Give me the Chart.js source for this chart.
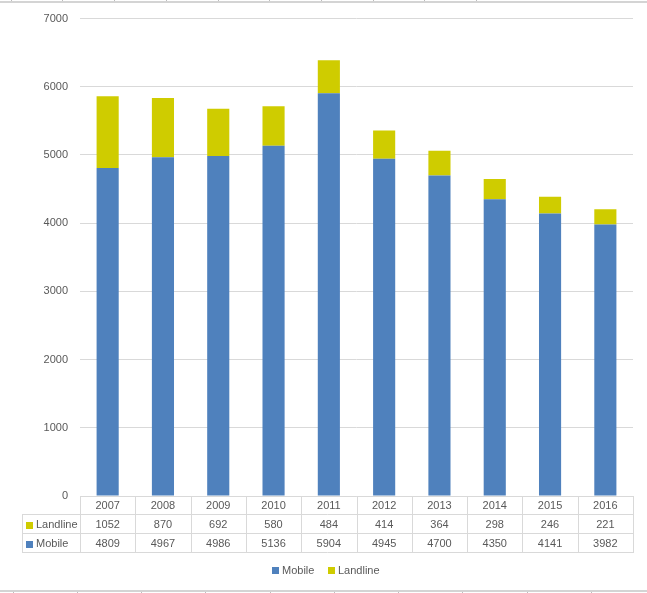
<!DOCTYPE html>
<html>
<head>
<meta charset="utf-8">
<script src="https://cdn.jsdelivr.net/npm/chart.js@4"></script>
<style>
  html, body { margin: 0; padding: 0; background: #fff; }
  #wrap { width: 647px; height: 593px; position: relative; }
</style>
</head>
<body>
<div id="wrap"><canvas id="chart" width="647" height="593"></canvas></div>
<script>
const years = ["2007", "2008", "2009", "2010", "2011", "2012", "2013", "2014", "2015", "2016"];
const mobile = [4809, 4967, 4986, 5136, 5904, 4945, 4700, 4350, 4141, 3982];
const landline = [1052, 870, 692, 580, 484, 414, 364, 298, 246, 221];

const blue = '#4f81bd';
const yellow = '#cfcc00';
const gridColor = '#d9d9d9';
const textColor = '#595959';
const font = '11px "Liberation Sans", Arial, sans-serif';

// draws the data table under the axis and the legend
const tablePlugin = {
    id: 'dataTable',
    afterDraw(chart) {
        const ctx = chart.ctx;
        const x = chart.scales.x;
        const area = chart.chartArea;
        const top = area.bottom;
        const rowH = 19;
        const labelLeft = 22;
        const right = area.right;
        const n = years.length;
        const colW = (area.right - area.left) / n;

        ctx.save();
        ctx.strokeStyle = gridColor;
        ctx.lineWidth = 1;
        ctx.beginPath();
        // horizontal lines
        ctx.moveTo(area.left, top + 0.5); ctx.lineTo(right, top + 0.5);
        for (let r = 1; r <= 3; r++) {
            const y = Math.round(top + r * rowH) - 0.5;
            ctx.moveTo(labelLeft, y); ctx.lineTo(right, y);
        }
        // vertical lines
        for (let i = 0; i <= n; i++) {
            const vx = Math.round(area.left + i * colW) + 0.5;
            ctx.moveTo(vx, top); ctx.lineTo(vx, top + 3 * rowH);
        }
        ctx.moveTo(labelLeft + 0.5, top + rowH); ctx.lineTo(labelLeft + 0.5, top + 3 * rowH);
        ctx.stroke();

        ctx.font = font;
        ctx.fillStyle = textColor;
        ctx.textAlign = 'center';
        ctx.textBaseline = 'middle';
        years.forEach((yr, i) => {
            const cx = x.getPixelForValue(i);
            ctx.fillText(yr, cx, top + rowH * 0.5 + 0.5);
            ctx.fillText(String(landline[i]), cx, top + rowH * 1.5 + 0.5);
            ctx.fillText(String(mobile[i]), cx, top + rowH * 2.5 + 0.5);
        });

        // row labels
        ctx.textAlign = 'left';
        [['Landline', yellow, 1.5], ['Mobile', blue, 2.5]].forEach(([name, col, r]) => {
            const cy = top + rowH * r;
            ctx.fillStyle = col;
            ctx.fillRect(26, Math.round(cy) - 3, 7, 7);
            ctx.fillStyle = textColor;
            ctx.fillText(name, 36, cy + 0.5);
        });

        // legend
        const ly = 570;
        ctx.fillStyle = blue;
        ctx.fillRect(272, ly - 3, 7, 7);
        ctx.fillStyle = textColor;
        ctx.fillText('Mobile', 282, ly + 0.5);
        ctx.fillStyle = yellow;
        ctx.fillRect(328, ly - 3, 7, 7);
        ctx.fillStyle = textColor;
        ctx.fillText('Landline', 338, ly + 0.5);

        // spreadsheet edges above and below the chart
        ctx.fillStyle = '#d4d4d4';
        ctx.fillRect(0, 1, chart.width, 2);
        ctx.fillRect(0, 590, chart.width, 2);
        ctx.fillStyle = '#bdbdbd';
        [11, 62, 114, 166, 218, 269, 321, 373, 424, 476].forEach(t => ctx.fillRect(t, 0, 1, 1));
        [13, 77, 141, 205, 270, 334, 398, 462, 527, 591].forEach(t => ctx.fillRect(t, 592, 1, 1));
        ctx.restore();
    }
};

new Chart(document.getElementById('chart'), {
    type: 'bar',
    data: {
        labels: years,
        datasets: [
            { label: 'Mobile', data: mobile, backgroundColor: blue, stack: 's' },
            { label: 'Landline', data: landline, backgroundColor: yellow, stack: 's' }
        ]
    },
    options: {
        responsive: false,
        animation: false,
        layout: { padding: { left: 0, right: 14, top: 10, bottom: 0 } },
        plugins: {
            legend: { display: false },
            tooltip: { enabled: false }
        },
        datasets: { bar: { categoryPercentage: 1, barPercentage: 0.4 } },
        scales: {
            x: {
                stacked: true,
                grid: { display: false, drawTicks: false },
                border: { display: false },
                ticks: { display: false },
                afterFit(s) { s.height = 97; }
            },
            y: {
                stacked: true,
                min: 0,
                max: 7000,
                ticks: {
                    stepSize: 1000,
                    color: textColor,
                    font: { family: '"Liberation Sans", Arial, sans-serif', size: 11 },
                    padding: 12,
                    callback: v => String(v)
                },
                grid: { color: gridColor, drawTicks: false },
                border: { display: false },
                afterFit(s) { s.width = 80; }
            }
        }
    },
    plugins: [tablePlugin]
});
</script>
</body>
</html>
